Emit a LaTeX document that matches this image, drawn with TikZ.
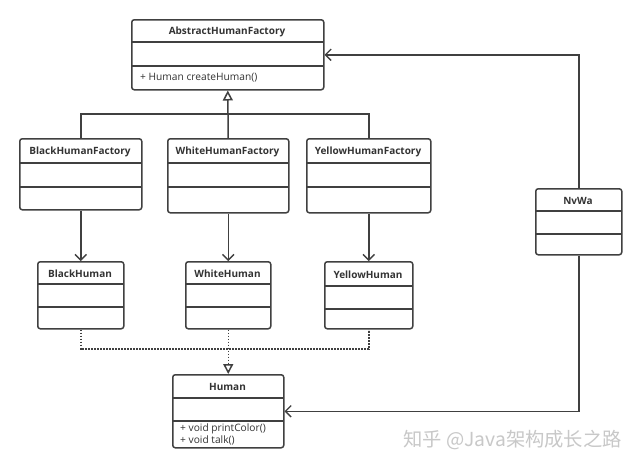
\documentclass[tikz,border=0pt]{standalone}
\usepackage{fontspec}
\setmainfont{Open Sans}
\newfontfamily\cjk{Noto Sans CJK SC}
\usetikzlibrary{arrows.meta}
\definecolor{ink}{HTML}{404040}
\definecolor{txt}{HTML}{333333}
\definecolor{wm}{HTML}{C8C8C8}
\tikzset{
  line/.style={draw=ink, line width=1.5pt},
  classbox/.style={line, rounded corners=2.5pt, inner sep=0pt, anchor=north west},
  title/.style={font=\fontsize{10}{12}\selectfont\bfseries, text=txt, inner sep=0pt},
  op/.style={font=\fontsize{10.2}{12}\selectfont, text=txt, inner sep=0pt, anchor=west, align=left},
  assoc/.style={line, -{Straight Barb[angle=90:8pt,line width=1.4pt]}},
  gen/.style={line, -{Triangle[open,length=10pt,width=10pt,fill=white]}},
  real/.style={line, dash pattern=on 1.6pt off 1.4pt},
}
% #1 name, #2 x1, #3 y1, #4 x2, #5 y2, #6 d1, #7 d2, #8 title
\newcommand\umlcls[8]{%
  \node[classbox, minimum width={#4-#2}, minimum height={#5-#3}] (#1) at (#2,#3) {};
  \node[title] (#1-t) at ({(#2+#4)/2},{(#3+#6)/2+1}) {#8};
  \draw[line] (#2,#6) -- (#4,#6);
  \draw[line] (#2,#7) -- (#4,#7);
}
\begin{document}
\begin{tikzpicture}[x=1pt,y=-1pt]
\useasboundingbox[fill=white] (0,0) rectangle (641,467);
\umlcls{ahf}{131}{19}{323}{89}{42}{66}{AbstractHumanFactory}
\node[op] (ahf-op) at (140,77.5) {+ Human createHuman()};
\umlcls{bhf}{19}{138}{141}{209}{163}{187}{BlackHumanFactory}
\umlcls{whf}{167}{138}{288}{212}{163}{187}{WhiteHumanFactory}
\umlcls{yhf}{306}{138}{430}{212}{163}{187}{YellowHumanFactory}
\umlcls{bh}{37}{261}{123}{328}{284}{307}{BlackHuman}
\umlcls{wh}{185}{261}{270}{328}{284}{307}{WhiteHuman}
\umlcls{yh}{324}{261}{412}{328}{286}{309}{YellowHuman}
\umlcls{hu}{172}{374}{283}{447}{398}{421}{Human}
\node[op] (hu-op) at (180,434) {+ void printColor()\\+ void talk()};
\umlcls{nv}{535}{188}{621}{254}{211}{234}{NvWa}
% generalization
\coordinate (busY) at (0,114);
\draw[line] (bhf.north) -- (bhf.north |- busY) -- (yhf.north |- busY) -- (yhf.north);
\draw[gen] (whf.north) -- (ahf.south);
% associations
\draw[assoc] (bhf.south) -- (bh.north);
\draw[assoc] (whf.south) -- (wh.north);
\draw[assoc] (yhf.south) -- (yh.north);
\draw[assoc] (nv.north) |- (ahf.east);
\draw[assoc] (nv.south) |- (hu.east);
% realization
\coordinate (dashY) at (0,349);
\draw[real] (bh.south) -- (bh.south |- dashY) -- (yh.south |- dashY) -- (yh.south);
\draw[real, -{Triangle[open,length=10pt,width=10pt,fill=white]}] (wh.south) -- (hu.north);
% watermark
\node[font=\cjk\fontsize{19.3}{21}\selectfont, text=wm, anchor=west, inner sep=0pt] (wmk) at (403,440) {知乎 @Java架构成长之路};
\end{tikzpicture}
\end{document}
